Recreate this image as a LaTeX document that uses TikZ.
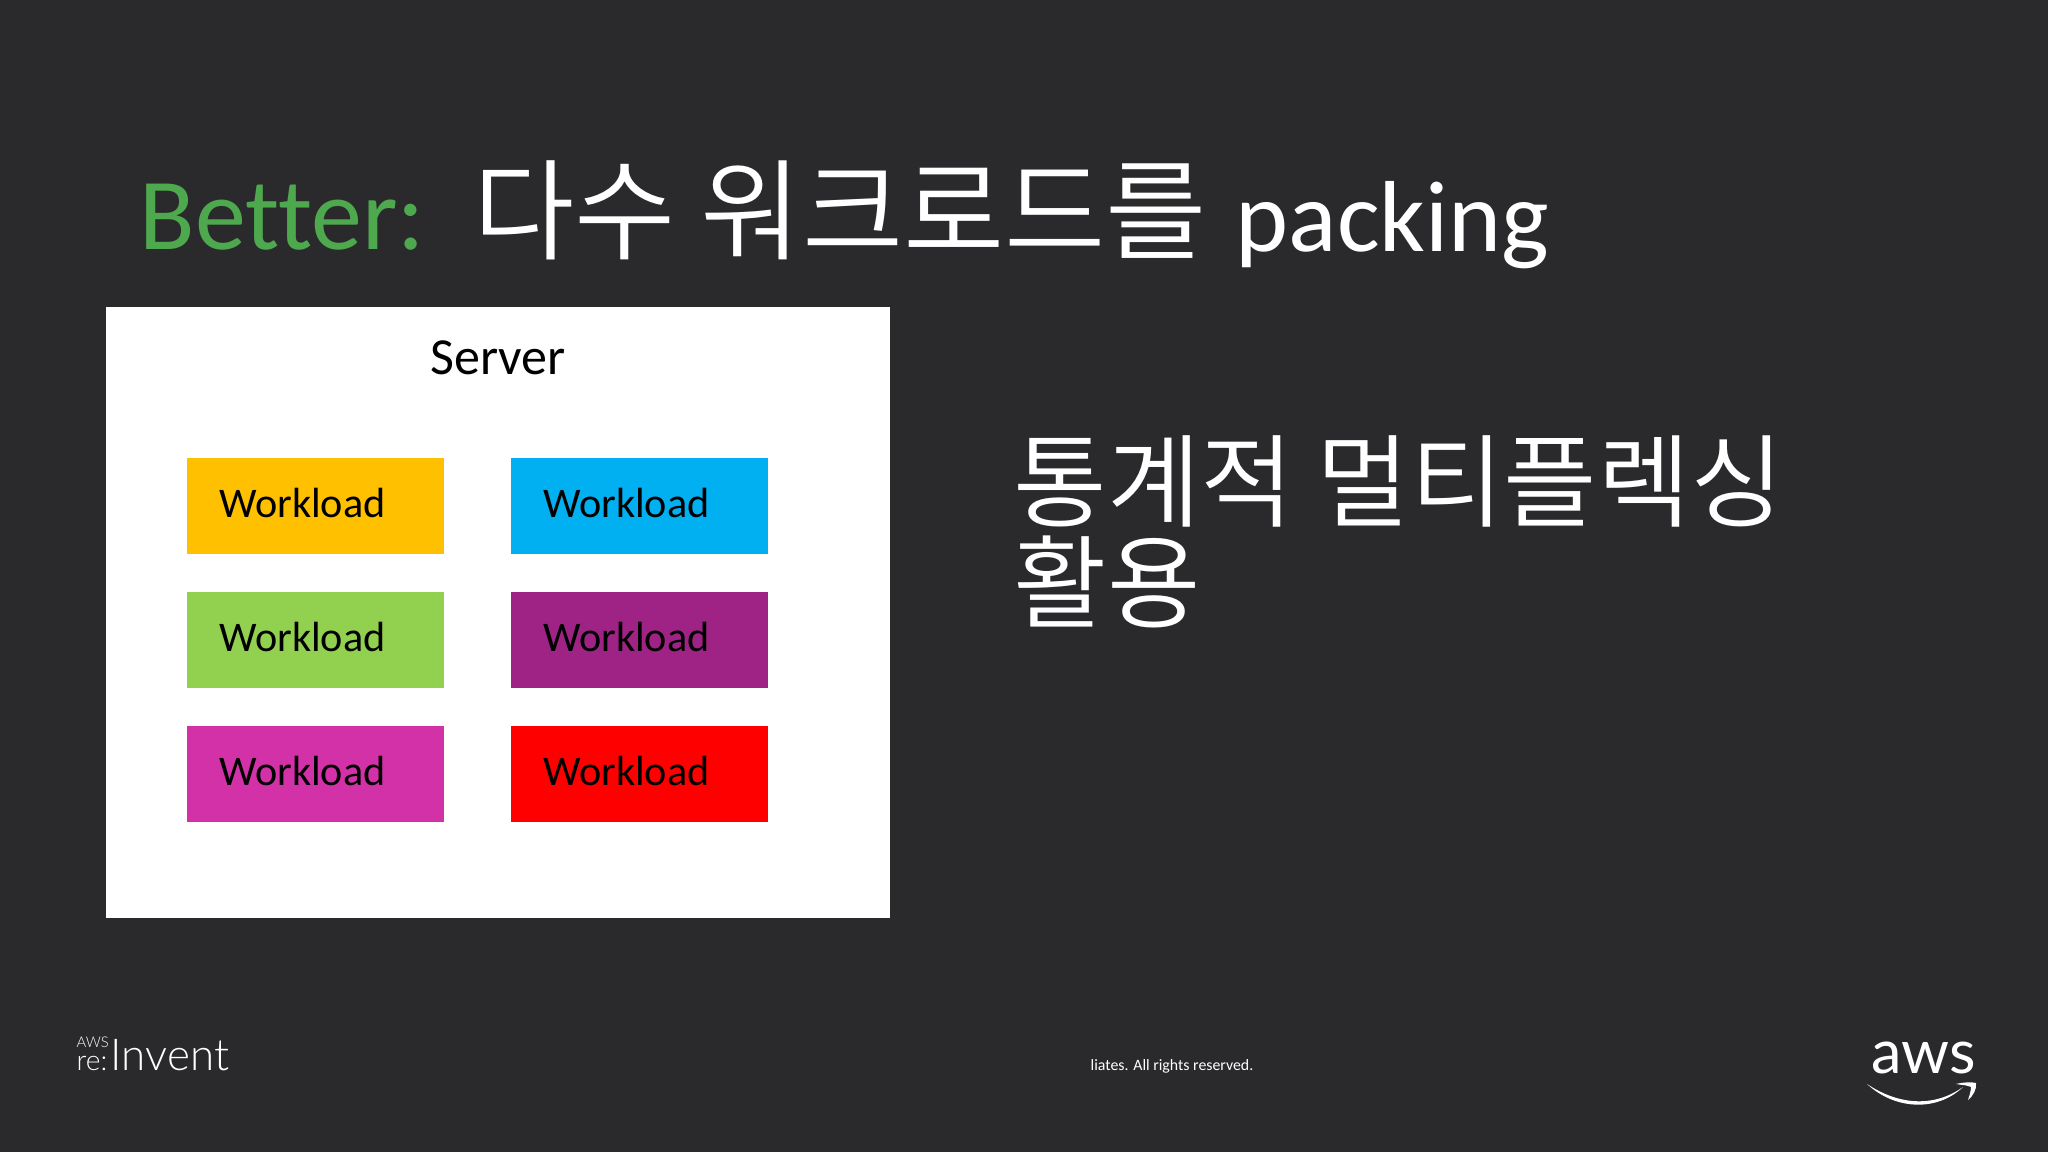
\documentclass[tikz,border=0pt]{standalone}
\usepackage{fontspec}
\setmainfont{Carlito}[Ligatures=NoCommon]
\newfontfamily\krfont{Noto Sans CJK KR DemiLight}
\newfontfamily\lightfont{Lato Light}
\newfontfamily\logofont{Lato}
\definecolor{slidebg}{HTML}{2A2A2C}
\definecolor{bettergreen}{HTML}{4EA84E}
\definecolor{wlorange}{HTML}{FFC000}
\definecolor{wlblue}{HTML}{00B0F0}
\definecolor{wlgreen}{HTML}{92D050}
\definecolor{wlpurple}{HTML}{9E2385}
\definecolor{wlmagenta}{HTML}{D331A8}
\definecolor{wlred}{HTML}{FF0000}
\tikzset{
	wlbox/.style={anchor=north west,minimum height=0.96cm,text width=1.92cm,text height=0.3cm,text depth=0.055cm,inner xsep=0.325cm,inner ysep=0pt,align=left,text=black,font=\fontsize{12}{14}\selectfont},
	base/.style={anchor=base west,inner sep=0pt},
}
\begin{document}
\begin{tikzpicture}[x=0.01cm,y=-0.01cm]
	\useasboundingbox (0,0) rectangle (2048,1152);
	\fill[slidebg] (0,0) rectangle (2048,1152);

	% title
	\node[base,text=bettergreen,font=\fontsize{29}{34}\selectfont] (better) at (139,250) {Better:};
	\node[base,text=white,font=\krfont\fontsize{31.3}{36}\selectfont] (titlekr) at (473,252) {다수 워크로드를};
	\node[base,text=white,font=\fontsize{28.7}{34}\selectfont] (packing) at (1235,252) {packing};

	% server and its workloads
	\node[anchor=north west,fill=white,minimum width=7.84cm,minimum height=6.11cm,inner sep=0pt] (server) at (105,306) {};
	\node[anchor=base,inner sep=0pt,text=black,font=\fontsize{14.8}{18}\selectfont] (serverlabel) at (498,375) {Server};

	\node[wlbox,fill=wlorange] (wla) at (186,457) {Workload};
	\node[wlbox,fill=wlblue] (wlb) at (510,457) {Workload};
	\node[wlbox,fill=wlgreen] (wlc) at (186,591) {Workload};
	\node[wlbox,fill=wlpurple] (wld) at (510,591) {Workload};
	\node[wlbox,fill=wlmagenta] (wle) at (186,725) {Workload};
	\node[wlbox,fill=wlred] (wlf) at (510,725) {Workload};

	% right text
	\node[anchor=north west,inner sep=0pt,align=left,text=white,font=\krfont\fontsize{28.9}{28.8}\selectfont] (mux) at (1013,435) {통계적 멀티플렉싱\\활용};

	% footer
	\node[base,text=white,font=\lightfont\fontsize{4.2}{5}\selectfont] (awssmall) at (76,1047) {AWS};
	\node[base,text=white,font=\lightfont\fontsize{8}{10}\selectfont] (re) at (76,1070) {re:};
	\node[base,text=white,font=\lightfont\fontsize{12.5}{15}\selectfont] (invent) at (110,1070) {Invent};
	\node[base,text=white,font=\fontsize{4.5}{6}\selectfont] (rights) at (1090,1070) {liates. All rights reserved.};

	\node[base,text=white,font=\logofont\fontsize{17.4}{20}\selectfont] (aws) at (1871,1073) {aws};
	\fill[white] (1867,1084) .. controls (1900,1106) and (1935,1107) .. (1963,1087)
		.. controls (1937,1112) and (1895,1110) .. (1867,1084);
	\fill[white] (1956,1084) .. controls (1964,1082) and (1972,1082) .. (1976,1083)
		.. controls (1977,1089) and (1973,1096) .. (1968,1100)
		.. controls (1970,1094) and (1971,1090) .. (1971,1087)
		.. controls (1967,1085) and (1961,1085) .. (1956,1084);
\end{tikzpicture}
\end{document}
